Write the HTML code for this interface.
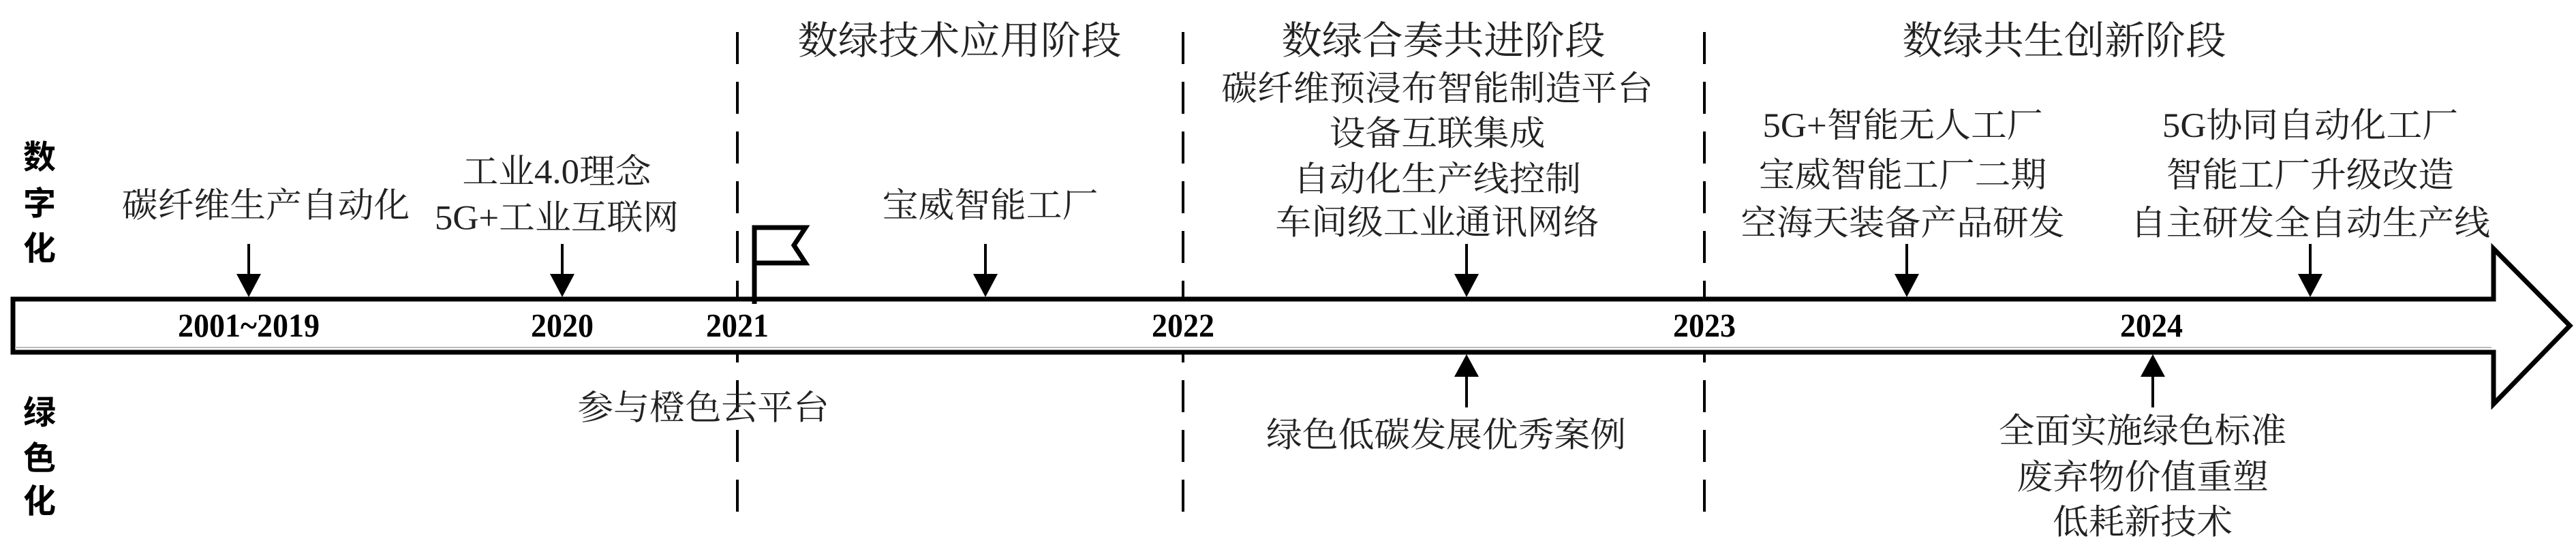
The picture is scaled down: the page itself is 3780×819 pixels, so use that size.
<!DOCTYPE html>
<html><head><meta charset="utf-8"><style>
body{margin:0;background:#fff;}
#c{position:relative;width:3780px;height:819px;overflow:hidden;background:#fff;}
.t{position:absolute;white-space:nowrap;line-height:1;font-family:"Liberation Serif","Noto Serif CJK SC",serif;color:#222;font-size:48px;transform:translate(-50%,-50%) scale(1.1,1.05);}
.h{font-size:54px;}
.y{font-weight:bold;font-size:46px;color:#000;transform:translate(-50%,-50%) scale(1,1.05);}
.l{font-weight:bold;font-size:48px;color:#000;font-family:"Liberation Sans","Noto Sans CJK SC",sans-serif;transform:translate(-50%,-50%);}
</style></head><body><div id="c">
<svg width="3780" height="819" style="position:absolute;left:0;top:0">
<g stroke="#000" stroke-width="4" stroke-dasharray="47 26">
<line x1="1082" y1="47" x2="1082" y2="770"/>
<line x1="1736" y1="47" x2="1736" y2="770"/>
<line x1="2501" y1="47" x2="2501" y2="770"/>
</g>
<path d="M19,439 H3659 V365 L3771,478 L3659,593 V517 H19 Z" fill="#fff" stroke="#000" stroke-width="7"/>
<line x1="22" y1="510" x2="3656" y2="510" stroke="#bbb" stroke-width="2"/>
<g stroke="#000" stroke-width="4">
<line x1="365" y1="358" x2="365" y2="410"/>
<line x1="825" y1="358" x2="825" y2="410"/>
<line x1="1446" y1="358" x2="1446" y2="410"/>
<line x1="2152" y1="358" x2="2152" y2="410"/>
<line x1="2798" y1="358" x2="2798" y2="410"/>
<line x1="3390" y1="358" x2="3390" y2="410"/>
<line x1="2152" y1="545" x2="2152" y2="598"/>
<line x1="3159" y1="545" x2="3159" y2="598"/>
</g>
<g fill="#000">
<polygon points="347,402 383,402 365,436"/>
<polygon points="807,402 843,402 825,436"/>
<polygon points="1428,402 1464,402 1446,436"/>
<polygon points="2134,402 2170,402 2152,436"/>
<polygon points="2780,402 2816,402 2798,436"/>
<polygon points="3372,402 3408,402 3390,436"/>
<polygon points="2134,553 2170,553 2152,520"/>
<polygon points="3141,553 3177,553 3159,520"/>
</g>
<path d="M1107,446 V334 H1182 L1165,360 L1182,386 H1107" fill="none" stroke="#000" stroke-width="7"/>
</svg>
<div class="t l" style="left:58px;top:232px">数</div>
<div class="t l" style="left:58px;top:300px">字</div>
<div class="t l" style="left:58px;top:366px">化</div>
<div class="t l" style="left:58px;top:607px">绿</div>
<div class="t l" style="left:58px;top:674px">色</div>
<div class="t l" style="left:58px;top:737px">化</div>
<div class="t y" style="left:365px;top:478px">2001~2019</div>
<div class="t y" style="left:825px;top:478px">2020</div>
<div class="t y" style="left:1082px;top:478px">2021</div>
<div class="t y" style="left:1736px;top:478px">2022</div>
<div class="t y" style="left:2501px;top:478px">2023</div>
<div class="t y" style="left:3157px;top:478px">2024</div>
<div class="t h" style="left:1408px;top:60px">数绿技术应用阶段</div>
<div class="t h" style="left:2118px;top:60px">数绿合奏共进阶段</div>
<div class="t h" style="left:3029px;top:60px">数绿共生创新阶段</div>
<div class="t" style="left:390px;top:303px">碳纤维生产自动化</div>
<div class="t" style="left:817px;top:253px">工业4.0理念</div>
<div class="t" style="left:817px;top:321px">5G+工业互联网</div>
<div class="t" style="left:1453px;top:303px">宝威智能工厂</div>
<div class="t" style="left:2109px;top:131px">碳纤维预浸布智能制造平台</div>
<div class="t" style="left:2109px;top:197px">设备互联集成</div>
<div class="t" style="left:2109px;top:264px">自动化生产线控制</div>
<div class="t" style="left:2109px;top:328px">车间级工业通讯网络</div>
<div class="t" style="left:2792px;top:185px">5G+智能无人工厂</div>
<div class="t" style="left:2792px;top:258px">宝威智能工厂二期</div>
<div class="t" style="left:2792px;top:329px">空海天装备产品研发</div>
<div class="t" style="left:3390px;top:185px">5G协同自动化工厂</div>
<div class="t" style="left:3390px;top:258px">智能工厂升级改造</div>
<div class="t" style="left:3390px;top:329px">自主研发全自动生产线</div>
<div class="t" style="left:1032px;top:600px">参与橙色云平台</div>
<div class="t" style="left:2122px;top:640px">绿色低碳发展优秀案例</div>
<div class="t" style="left:3144px;top:634px">全面实施绿色标准</div>
<div class="t" style="left:3144px;top:702px">废弃物价值重塑</div>
<div class="t" style="left:3144px;top:768px">低耗新技术</div>
</div></body></html>
